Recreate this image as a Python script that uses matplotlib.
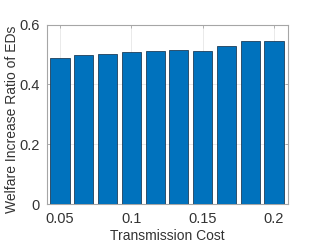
import numpy as np
import matplotlib
matplotlib.use("Agg")
import matplotlib.pyplot as plt

matplotlib.rcParams['font.family'] = ['Liberation Sans', 'DejaVu Sans']

# transmission cost values and welfare increase ratio
costs = [0.05, 0.0667, 0.0833, 0.1, 0.1167, 0.1333, 0.15, 0.1667, 0.1833, 0.2]
ratio = [0.488, 0.498, 0.502, 0.508, 0.511, 0.516, 0.511, 0.530, 0.544, 0.544]
xticks = [0.05, 0.1, 0.15, 0.2]
xtick_labels = ["0.05", "0.1", "0.15", "0.2"]
yticks = [0, 0.2, 0.4, 0.6]
ytick_labels = ["0", "0.2", "0.4", "0.6"]

fig = plt.figure(figsize=(3.18, 2.48), dpi=100)
ax = fig.add_axes([47 / 318, 1 - 204 / 248, (288 - 47) / 318, (204 - 24.7) / 248])

step = costs[1] - costs[0]
ax.bar(costs, ratio, width=0.8 * step, color="#0072BD",
       edgecolor="#1f3f5a", linewidth=0.6, zorder=3)

ax.set_xlim(0.0409, 0.2098)
ax.set_ylim(0, 0.6)
ax.set_xticks(xticks)
ax.set_xticklabels(xtick_labels)
ax.set_yticks(yticks)
ax.set_yticklabels(ytick_labels)

ax.grid(True, color="#e6e6e6", linewidth=0.6, zorder=0)
ax.set_axisbelow(True)
for s in ax.spines.values():
    s.set_color("#a6a6a6")
    s.set_linewidth(0.8)
ax.tick_params(direction="in", length=2.5, width=0.6, color="#a6a6a6",
               labelsize=10.5, labelcolor="#333333", top=True, right=True,
               labeltop=False, labelright=False)
ax.tick_params(axis="x", pad=6)
ax.tick_params(axis="y", pad=5)

ax.set_xlabel("Transmission Cost", fontsize=10, color="#333333", labelpad=2)
ax.set_ylabel("Welfare Increase Ratio of EDs", fontsize=10, color="#333333")
ax.yaxis.set_label_coords(-0.115, 0.471)

plt.savefig("out.png", dpi=100)
plt.close()
